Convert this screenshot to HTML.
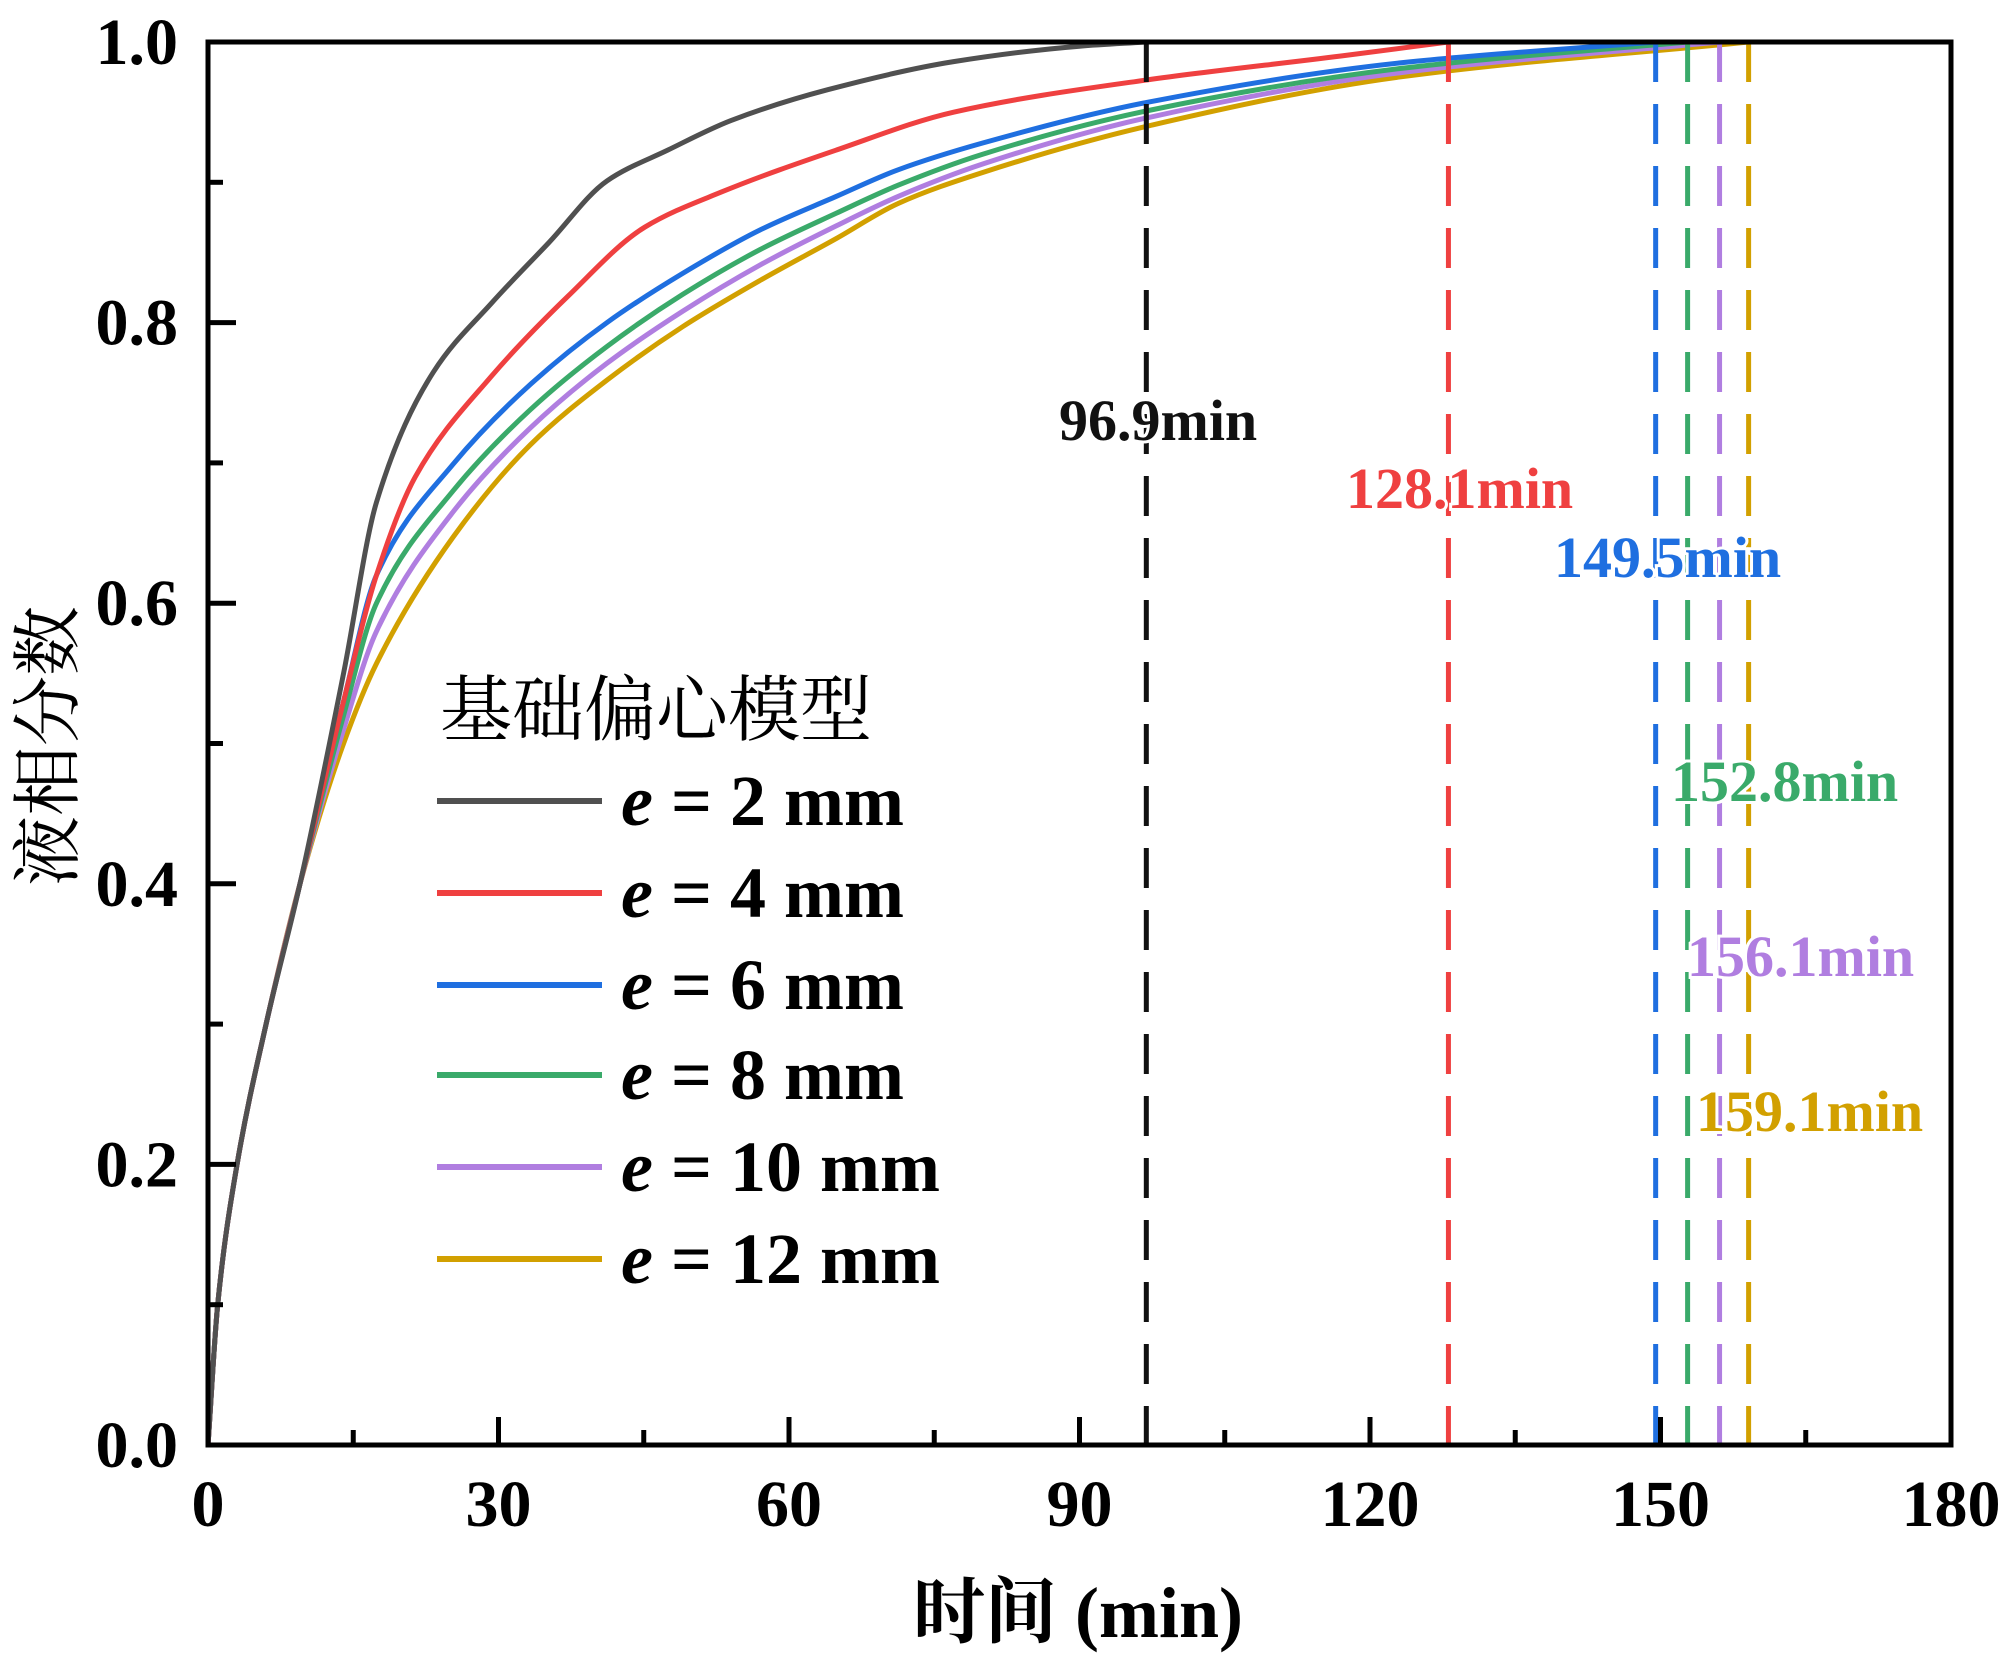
<!DOCTYPE html>
<html><head><meta charset="utf-8">
<style>
html,body{margin:0;padding:0;background:#fff;}
svg{display:block;}
text{font-family:"Liberation Serif","Noto Serif CJK SC",serif;font-weight:bold;}
</style></head>
<body>
<svg id="chart" width="2000" height="1659" viewBox="0 0 2000 1659" xmlns="http://www.w3.org/2000/svg">
<g id="curves"></g>
<g id="vlines"></g>
<g id="axes"></g>
<g id="legend"></g>
</svg>
<script>
const seriesNames = ["e = 2 mm","e = 4 mm","e = 6 mm","e = 8 mm","e = 10 mm","e = 12 mm"];
const seriesLabels = ["2","4","6","8","10","12"];
const seriesColors = ["#505050","#ef4040","#1f6fe0","#3aaa6a","#b07ee0","#d2a000"];
const endTimes = [96.9,128.1,149.5,152.8,156.1,159.1];
const endLabels = ["96.9min","128.1min","149.5min","152.8min","156.1min","159.1min"];
const endLabelColors = ["#111111","#ef4040","#1f6fe0","#3aaa6a","#b07ee0","#d2a000"];
const t0 = [0,1,3,6,9.5,14,17.4,23.3,29.3,35.2,41.2,47.5,54,64,77,90,96.9];
const y0 = [0,0.1,0.2,0.3,0.4,0.55,0.672,0.765,0.814,0.857,0.901,0.923,0.944,0.966,0.986,0.997,1.0];
const t1 = [0,1,3,6,9.5,14,17.4,21.4,29.3,37.2,45.1,53,64.9,77,97,117,128.1];
const y1 = [0,0.1,0.2,0.3,0.4,0.53,0.62,0.69,0.762,0.819,0.868,0.893,0.923,0.95,0.973,0.99,1.0];
const t2 = [0,1,3,6,9.5,14,17.4,25.3,33.3,41.2,49,57,64.9,71.3,80,97,123,149.5];
const y2 = [0,0.1,0.2,0.3,0.4,0.53,0.62,0.699,0.756,0.80,0.835,0.866,0.89,0.909,0.928,0.957,0.985,1.0];
const t3 = [0,1,3,6,9.5,14,17.4,25.3,33.3,41.2,49,57,64.9,71.3,80,97,123,152.8];
const y3 = [0,0.1,0.2,0.3,0.4,0.52,0.60,0.68,0.738,0.783,0.82,0.852,0.878,0.898,0.92,0.951,0.981,1.0];
const t4 = [0,1,3,6,9.5,14,17.4,25.3,33.3,41.2,49,57,64.9,71.3,80,97,123,156.1];
const y4 = [0,0.1,0.2,0.3,0.4,0.51,0.58,0.665,0.725,0.771,0.808,0.841,0.869,0.89,0.913,0.946,0.978,1.0];
const t5 = [0,1,3,6,9.5,14,17.4,25.3,33.3,41.2,49,57,64.9,71.3,80,97,123,159.1];
const y5 = [0,0.1,0.2,0.3,0.4,0.50,0.557,0.647,0.713,0.759,0.797,0.83,0.86,0.885,0.907,0.94,0.975,1.0];
const xTicks = [0,30,60,90,120,150,180];
const yTicks = [0,0.2,0.4,0.6,0.8,1.0];
const yTickLabels = ["0.0","0.2","0.4","0.6","0.8","1.0"];

const X0=208,X1=1951,Y0=1445,Y1=42;
const sx = t => X0 + t/180*(X1-X0);
const sy = v => Y0 - v*(Y0-Y1);
const NS="http://www.w3.org/2000/svg";
function mk(tag, attrs, parent){const e=document.createElementNS(NS,tag);for(const k in attrs)e.setAttribute(k,attrs[k]);parent.appendChild(e);return e;}
const curves=document.getElementById('curves'), vlines=document.getElementById('vlines'), axes=document.getElementById('axes'), legend=document.getElementById('legend');

const Ts=[t0,t1,t2,t3,t4,t5], Ys=[y0,y1,y2,y3,y4,y5];
function monoPath(xs, ys){
  const n=xs.length, d=[], m=new Array(n);
  for(let i=0;i<n-1;i++) d.push((ys[i+1]-ys[i])/(xs[i+1]-xs[i]));
  m[0]=d[0]; m[n-1]=d[n-2];
  for(let i=1;i<n-1;i++){
    if(d[i-1]*d[i]<=0) m[i]=0;
    else { const w1=2*(xs[i+1]-xs[i])+(xs[i]-xs[i-1]), w2=(xs[i+1]-xs[i])+2*(xs[i]-xs[i-1]); m[i]=(w1+w2)/(w1/d[i-1]+w2/d[i]); }
  }
  let p=`M${sx(xs[0])},${sy(ys[0])}`;
  for(let i=0;i<n-1;i++){
    const h=xs[i+1]-xs[i];
    p+=` C${sx(xs[i]+h/3)},${sy(ys[i]+m[i]*h/3)} ${sx(xs[i+1]-h/3)},${sy(ys[i+1]-m[i+1]*h/3)} ${sx(xs[i+1])},${sy(ys[i+1])}`;
  }
  return p;
}
for(let s=5;s>=0;s--){
  const p=mk('path',{d:monoPath(Ts[s],Ys[s]),fill:'none',stroke:seriesColors[s],'stroke-width':5,'stroke-linejoin':'round'},curves);
  
  
}
const labelPos=[[1059,440],[1346,508],[1554,577],[1671,801],[1687,976],[1696,1131]];
endTimes.forEach((t,i)=>{
  const c = i===0?'#111':seriesColors[i];
  const l=mk('line',{x1:sx(t),x2:sx(t),y1:sy(1),y2:Y0,stroke:c,'stroke-width':5,'stroke-dasharray':'40 22'},vlines);
  
  
});
endTimes.forEach((t,i)=>{
  const tx=mk('text',{x:labelPos[i][0],y:labelPos[i][1],fill:endLabelColors[i],'font-size':58,stroke:'#fff','stroke-width':6,'paint-order':'stroke'},vlines);
  tx.textContent=endLabels[i];
  
  
});
const fr=mk('rect',{x:X0,y:Y1,width:X1-X0,height:Y0-Y1,fill:'none',stroke:'#000','stroke-width':5},axes);


for(let t=15;t<180;t+=15){
  const major=t%30===0;
  mk('line',{x1:sx(t),x2:sx(t),y1:Y0,y2:Y0-(major?28:15),stroke:'#000','stroke-width':5},axes);
}
for(let k=1;k<10;k++){
  const v=k/10,major=k%2===0;
  mk('line',{x1:X0,x2:X0+(major?28:15),y1:sy(v),y2:sy(v),stroke:'#000','stroke-width':5},axes);
}
xTicks.forEach(t=>{
  const tx=mk('text',{x:sx(t),y:1526,'text-anchor':'middle','font-size':66},axes);
  tx.textContent=t;
  
  
});
yTicks.forEach((v,i)=>{
  const tx=mk('text',{x:178,y:sy(v)+22,'text-anchor':'end','font-size':66},axes);
  tx.textContent=yTickLabels[i];
  
  
});
const xt=mk('text',{x:1078,y:1637,'text-anchor':'middle','font-size':72},axes);
xt.textContent='时间 (min)';


const yt=mk('text',{x:0,y:0,'text-anchor':'middle','font-size':70,transform:'translate(72,746) rotate(-90)'},axes);
yt.textContent='液相分数';
yt.style.fontWeight='normal';


const lt=mk('text',{x:440,y:735,'font-size':72},legend);
lt.textContent='基础偏心模型';
lt.style.fontWeight='normal';


const legY=[801,893,985,1075,1167,1259];
seriesNames.forEach((n,i)=>{
  const g=mk('g',{},legend);
  
  
  mk('line',{x1:437,x2:602,y1:legY[i],y2:legY[i],stroke:seriesColors[i],'stroke-width':6},g);
  const tx=mk('text',{x:621,y:legY[i]+24,'font-size':72},g);
  const e=mk('tspan',{'font-style':'italic'},tx); e.textContent='e';
  const r=mk('tspan',{},tx); r.textContent=' = '+seriesLabels[i]+' mm';
});
</script>
</body></html>
